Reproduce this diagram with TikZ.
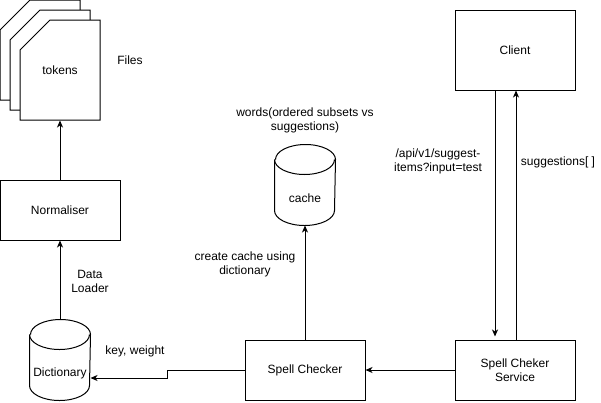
\documentclass[tikz,border=0pt]{standalone}
\usepackage{fontspec}
\setmainfont{Liberation Sans}
\usetikzlibrary{arrows.meta}

\tikzset{
  box/.style={rectangle, draw, line width=1pt, fill=white, minimum width=120pt, minimum height=60pt, align=center},
  db/.style={rectangle, minimum width=60pt, minimum height=80pt, inner sep=0pt},
  lbl/.style={align=center, inner sep=0pt},
  >={Stealth[length=7pt,width=6pt,inset=2pt]}
}

\begin{document}
\begin{tikzpicture}[x=1pt, y=-1pt, font=\fontsize{12}{14}\selectfont, line width=1pt]

\useasboundingbox (0,0) rectangle (601,402);

    % stack of files
    \foreach \d in {0,10,20}
        \draw[fill=white] (\d,30+\d) -- (30+\d,\d) -- (80+\d,\d) -- (80+\d,100+\d) -- (\d,100+\d) -- cycle;

    \node (tok) at (60,70) [minimum width=80pt, minimum height=100pt] {tokens};
    \node (files) at (130,60) [lbl] {Files};

    \node (norm) at (60,210) [box] {Normaliser};
    \node (dict) at (60,360) [db] {};
    \node (dtxt) at (60,373) [lbl] {Dictionary};
    \node (chk) at (305,370) [box] {Spell Checker};
    \node (cache) at (305,185) [db] {};
    \node (ctxt) at (305,198) [lbl] {cache};
    \node (cli) at (515,50) [box, minimum height=80pt] {Client};
    \node (svc) at (515,370) [box] {Spell Cheker\\Service};

    % cylinders
    \foreach \n in {dict,cache} {
        \draw ([yshift=-15pt]\n.north west) -- ([yshift=15pt]\n.south west)
            arc[start angle=180, end angle=360, x radius=30pt, y radius=15pt]
            -- ([yshift=-15pt]\n.north east)
            arc[start angle=0, end angle=180, x radius=30pt, y radius=15pt];
        \draw ([yshift=-15pt]\n.north west)
            arc[start angle=180, end angle=360, x radius=30pt, y radius=15pt];
    }

    % labels
    \node (load) at (90,281) [lbl] {Data\\Loader};
    \node (kw) at (135,351) [lbl] {key, weight};
    \node (mk) at (245,264) [lbl] {create cache using\\dictionary};
    \node (words) at (305,120) [lbl] {words(ordered subsets vs\\suggestions)};
    \node (api) at (438,161) [lbl] {/api/v1/suggest-\\items?input=test};
    \node (sugg) at (558,162) [lbl] {suggestions[ ]};

    \path[->]
        (norm.north) edge (tok.south)
        (dict.north) edge (norm.south)
        (chk.north) edge (cache.south)
        (svc.west) edge (chk.east)
        ([xshift=-20pt]cli.south) edge [shorten >=3pt] ([xshift=-20pt]svc.north)
        ([xshift=1pt]svc.north) edge ([xshift=1pt]cli.south);

    \draw[->] (chk.west) -- ++(-77,0) |- ([yshift=-18pt]dict.east);

\end{tikzpicture}
\end{document}
